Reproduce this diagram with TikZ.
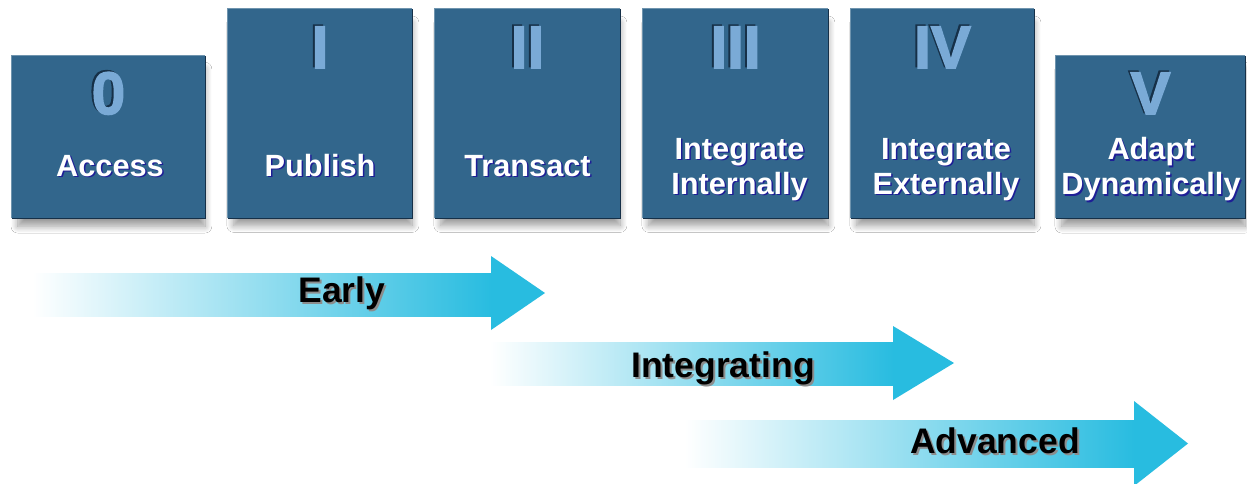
\documentclass[tikz,border=0pt]{standalone}
\usepackage{fontspec}
\setmainfont{Liberation Sans}
\newfontfamily\numfont[BoldFeatures={FakeBold=2.5}]{Liberation Sans}
\usetikzlibrary{shadows.blur}
\definecolor{boxblue}{RGB}{50,102,140}
\definecolor{boxdark}{RGB}{22,48,72}
\definecolor{numblue}{RGB}{122,170,214}
\definecolor{shadeblue}{RGB}{30,30,150}
\definecolor{arrowcyan}{RGB}{40,188,224}
\begin{document}
\begin{tikzpicture}[x=1pt,y=-1pt,
stage/.style={rectangle,fill=boxblue,inner sep=0pt,blur shadow={shadow xshift=3pt,shadow yshift=-11pt,shadow scale=0.97,shadow blur radius=7pt,shadow blur steps=12,shadow opacity=40}},
numeral/.style={font=\numfont\bfseries\fontsize{60}{60}\selectfont,text=numblue,inner sep=0pt,anchor=base},
numshade/.style={numeral,text=boxdark},
stagetext/.style={font=\bfseries\fontsize{30.7}{35}\selectfont,text=white,align=center,inner sep=0pt},
stageshade/.style={stagetext,text=shadeblue},
phasetext/.style={font=\bfseries\fontsize{35.5}{40}\selectfont,inner sep=0pt,anchor=base},
phaseshade/.style={phasetext,text=black!45}]
\fill[white] (0,0) rectangle (1247,483);
\useasboundingbox (0,0) rectangle (1247,483);
% stages
\node[stage,minimum width=193pt,minimum height=162pt] (s0) at (108.5,137) {};%0
\node[stage,minimum width=184pt,minimum height=209pt] (s1) at (320,113.5) {};%I
\node[stage,minimum width=185pt,minimum height=209pt] (s2) at (527.5,113.5) {};%II
\node[stage,minimum width=185pt,minimum height=209pt] (s3) at (735.5,113.5) {};%III
\node[stage,minimum width=183pt,minimum height=209pt] (s4) at (942.5,113.5) {};%IV
\node[stage,minimum width=189pt,minimum height=162pt] (s5) at (1150.5,137) {};%V
\foreach \s in {s0,s1,s2,s3,s4,s5}{
  \draw[boxblue!70!white,line width=1pt] (\s.south west) -- (\s.north west) -- (\s.north east);
  \draw[boxdark,line width=1.2pt] (\s.north east) -- (\s.south east) -- (\s.south west);
}
% numerals
\node[numshade] (n0s) at (106.5,112.5) {0};
\node[numeral] (n0) at (108.5,114) {0};
\node[numshade] (n1s) at (318,66.5) {I};
\node[numeral] (n1) at (320,68) {I};
\node[numshade] (n2s) at (525.5,66.5) {II};
\node[numeral] (n2) at (527.5,68) {II};
\node[numshade] (n3s) at (733.5,66.5) {III};
\node[numeral] (n3) at (735.5,68) {III};
\node[numshade] (n4s) at (940.5,66.5) {IV};
\node[numeral] (n4) at (942.5,68) {IV};
\node[numshade] (n5s) at (1148.5,112.5) {V};
\node[numeral] (n5) at (1150.5,114) {V};
% stage names
\node[stageshade,anchor=base] (t0s) at (111.5,177.5) {Access};
\node[stagetext,anchor=base] (t0) at (110,176) {Access};
\node[stageshade,anchor=base] (t1s) at (321.5,177.5) {Publish};
\node[stagetext,anchor=base] (t1) at (320,176) {Publish};
\node[stageshade,anchor=base] (t2s) at (529,177.5) {Transact};
\node[stagetext,anchor=base] (t2) at (527.5,176) {Transact};
\node[stageshade] (t3s) at (741,171) {Integrate\\Internally};
\node[stagetext] (t3) at (739.5,169.5) {Integrate\\Internally};
\node[stageshade] (t4s) at (947.5,171) {Integrate\\Externally};
\node[stagetext] (t4) at (946,169.5) {Integrate\\Externally};
\node[stageshade] (t5s) at (1152.5,171) {Adapt\\Dynamically};
\node[stagetext] (t5) at (1151,169.5) {Adapt\\Dynamically};
% phases
\shade[left color=white,right color=arrowcyan] (32,273) rectangle (492,316);
\fill[arrowcyan] (491,256) -- (545,293) -- (491,330) -- cycle;
\shade[left color=white,right color=arrowcyan] (490,342) rectangle (894,385);
\fill[arrowcyan] (893,326) -- (954,363) -- (893,400) -- cycle;
\shade[left color=white,right color=arrowcyan] (684,420) rectangle (1135,467);
\fill[arrowcyan] (1134,401) -- (1188,443.5) -- (1134,486) -- cycle;
\node[phaseshade] (p1s) at (344,304) {Early};
\node[phasetext] (p1) at (342,302) {Early};
\node[phaseshade] (p2s) at (725,379) {Integrating};
\node[phasetext] (p2) at (723,377) {Integrating};
\node[phaseshade] (p3s) at (997,455) {Advanced};
\node[phasetext] (p3) at (995,453) {Advanced};
\end{tikzpicture}
\end{document}
